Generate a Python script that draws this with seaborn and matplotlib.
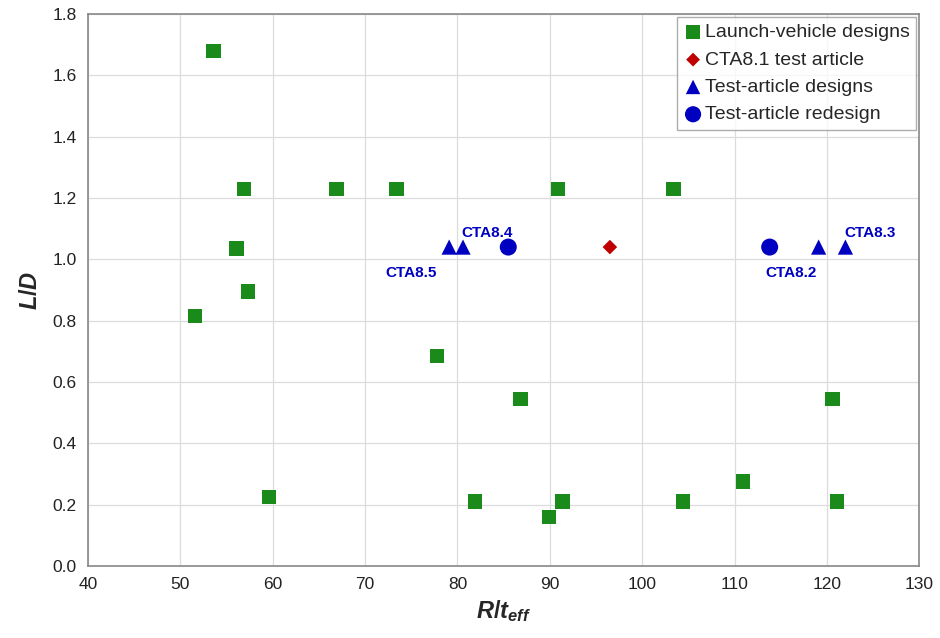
import matplotlib
matplotlib.use("Agg")
import matplotlib.pyplot as plt
import seaborn as sns
import pandas as pd

lv_x = [53.6, 56.9, 66.9, 73.4, 90.9, 103.4, 56.1, 57.3, 51.6, 77.8, 86.8, 120.6,
        59.6, 81.9, 89.9, 91.4, 104.4, 110.9, 121.1]
lv_y = [1.68, 1.23, 1.23, 1.23, 1.23, 1.23, 1.035, 0.895, 0.815, 0.685, 0.545, 0.545,
        0.225, 0.21, 0.16, 0.21, 0.21, 0.275, 0.21]
cta81_x = [96.5]
cta81_y = [1.04]
tad_x = [79.1, 80.6, 119.1, 122.0]
tad_y = [1.04, 1.04, 1.04, 1.04]
tar_x = [85.5, 113.8]
tar_y = [1.04, 1.04]
labels = ["CTA8.5", "CTA8.4", "CTA8.2", "CTA8.3"]
label_x = [79.1, 80.6, 113.8, 122.0]
label_y = [1.04, 1.04, 1.04, 1.04]

sns.set_theme(style="whitegrid")
plt.rcParams['font.family'] = ['Liberation Sans', 'DejaVu Sans']
plt.rcParams['mathtext.fontset'] = 'custom'
plt.rcParams['mathtext.it'] = 'Liberation Sans:italic:bold'
plt.rcParams['mathtext.rm'] = 'Liberation Sans:bold'

fig = plt.figure(figsize=(9.4, 6.38), dpi=100)
ax = fig.add_axes([0.0936, 0.1129, 0.8844, 0.8651])

green = "#1a8a1a"
red = "#c00000"
blue = "#0000c0"

sns.scatterplot(x=lv_x, y=lv_y, marker="s", s=110, color=green, edgecolor="none",
                ax=ax, label="Launch-vehicle designs", zorder=3)
sns.scatterplot(x=cta81_x, y=cta81_y, marker="D", s=55, color=red, edgecolor="none",
                ax=ax, label="CTA8.1 test article", zorder=3)
sns.scatterplot(x=tad_x, y=tad_y, marker="^", s=120, color=blue, edgecolor="none",
                ax=ax, label="Test-article designs", zorder=3)
sns.scatterplot(x=tar_x, y=tar_y, marker="o", s=150, color=blue, edgecolor="none",
                ax=ax, label="Test-article redesign", zorder=3)

offsets = [(-46, -19), (-1, 10), (-3, -19), (-1, 10)]
for t, lx, ly, (dx, dy) in zip(labels, label_x, label_y, offsets):
    ax.annotate(t, (lx, ly), xytext=(dx, dy), textcoords="offset points",
                fontsize=11, fontweight="bold", color=blue, ha="left", va="center")

ax.set_xlim(40, 130)
ax.set_ylim(0, 1.8)
ax.set_xticks(list(range(40, 131, 10)))
ax.set_yticks([i * 0.2 for i in range(10)])
ax.set_yticklabels([f"{i*0.2:.1f}" for i in range(10)])
ax.tick_params(labelsize=12.5, colors="#222222", length=0, pad=8)
ax.grid(True, color="#dcdcdc", linewidth=0.9)
for sp in ax.spines.values():
    sp.set_color("#888888")
    sp.set_linewidth(1.2)

ax.set_xlabel(r"$\mathit{R/t}_{\mathit{eff}}$", fontsize=17, labelpad=4)
ax.set_ylabel(r"$\mathit{L/D}$", fontsize=17, labelpad=8)

leg = ax.legend(loc="upper right", fontsize=14, frameon=True, fancybox=False,
                handletextpad=0.1, borderpad=0.35, labelspacing=0.5,
                handlelength=1.0, borderaxespad=0.15, markerscale=0.95)
leg.get_frame().set_edgecolor("#999999")
leg.get_frame().set_linewidth(1.0)

fig.savefig("out.png", dpi=100)
